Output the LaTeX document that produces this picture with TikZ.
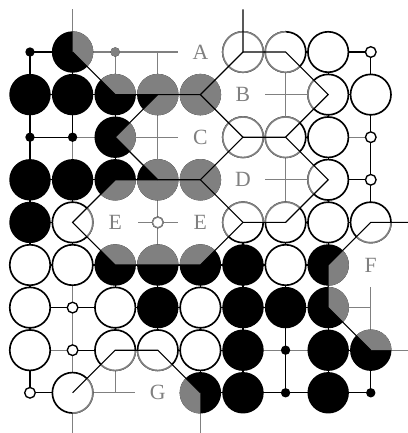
\documentclass[tikz,border=0pt]{standalone}
\usepackage{fontspec}
\setmainfont{Liberation Serif}
\definecolor{cellgray}{RGB}{128,128,128}
\tikzset{
  gridline/.style={line width=0.9pt},
  border/.style={line width=0.75pt},
  wstone/.style={fill=white, line width=1.1pt},
  wpoint/.style={fill=white, line width=0.9pt},
  lettermark/.style={fill=white, text=cellgray, inner sep=0pt, minimum size=1.05cm,
    font=\fontsize{14.5}{14.5}\selectfont}
}
% the lettered cells
\newcommand{\lettered}{%
  (2,-1) -- (2,1) -- (3,2) -- (5,2) -- (6,1) -- (6,-1) -- cycle
  (6,-1) -- (6,1) -- (7,1) -- (7,-1) -- cycle
  (5,2) -- (6,1) -- (7,1) -- (8,2) -- (7,3) -- (6,3) -- cycle
  (3,3) -- (4,2) -- (5,2) -- (6,3) -- (5,4) -- (4,4) -- cycle
  (5,4) -- (6,3) -- (7,3) -- (8,4) -- (7,5) -- (6,5) -- cycle
  (2,5) -- (3,4) -- (5,4) -- (6,5) -- (5,6) -- (3,6) -- cycle
  (9,5) -- (11,5) -- (11,8) -- (9,8) -- (8,7) -- (8,6) -- cycle
  (2,9) -- (3,8) -- (4,8) -- (5,9) -- (5,11) -- (2,11) -- cycle}
% stones and points, #1 = ink
\newcommand{\stones}[1]{%
  % black stones
  \foreach \c/\r in {2/1, 1/2, 2/2, 3/2, 4/2, 5/2, 3/3, 1/4, 2/4, 3/4, 4/4, 5/4, 1/5,
      3/6, 4/6, 5/6, 6/6, 8/6, 4/7, 6/7, 7/7, 8/7, 6/8, 8/8, 9/8, 5/9, 6/9, 8/9}
    \fill[#1] (\c,\r) circle (0.486);
  % white stones
  \foreach \c/\r in {6/1, 7/1, 8/1, 8/2, 9/2, 6/3, 7/3, 8/3, 8/4, 2/5, 6/5, 7/5, 8/5, 9/5,
      1/6, 2/6, 7/6, 1/7, 3/7, 5/7, 1/8, 3/8, 4/8, 5/8, 2/9}
    \filldraw[wstone, draw=#1] (\c,\r) circle (0.475);
  % empty points
  \foreach \c/\r in {1/1, 3/1, 1/3, 2/3, 7/8, 7/9, 9/9}
    \fill[#1] (\c,\r) circle (0.11);
  \foreach \c/\r in {9/1, 9/3, 9/4, 4/5, 2/7, 2/8, 1/9}
    \filldraw[wpoint, draw=#1] (\c,\r) circle (0.125);
}

\begin{document}
\begin{tikzpicture}[x=1cm, y=-1cm]
  \useasboundingbox (0.296,-0.221) rectangle (9.873,9.944);
  \clip (0.296,-0.221) rectangle (9.873,9.944);
  % grid
  \draw[gridline] (1,9) grid (9,1);
  \begin{scope}
    \clip \lettered;
    \draw[gridline, cellgray] (1,9) grid (9,1);
  \end{scope}
  % grey links outside the cells
  \draw[gridline, cellgray] (2,3) -- (3,3) (2,3) -- (2,4) (8,3) -- (9,3)
    (2,6) -- (2,9) (1,8) -- (2,8) (6,8) -- (8,8);
  % lines off the board
  \draw[gridline, cellgray] (2,0) -- (2,1) (2,9) -- (2,10) (5,9) -- (5,10) (9,8) -- (10,8);
  % letters
  \node[lettermark] (a) at (5,1) {A};
  \node[lettermark] (b) at (6,2) {B};
  \node[lettermark] (c) at (5,3) {C};
  \node[lettermark] (d) at (6,4) {D};
  \node[lettermark] (e1) at (3,5) {E};
  \node[lettermark] (e2) at (5,5) {E};
  \node[lettermark] (f) at (9,6) {F};
  \node[lettermark] (g) at (4,9) {G};
  % stones
  \stones{black}
  \begin{scope}
    \clip \lettered;
    \stones{cellgray}
  \end{scope}
  % cell borders
  \draw[border] (2,1) -- (3,2) -- (5,2) -- (6,1) -- (6,0);
  \draw[border] (6,1) -- (7,1) -- (8,2) -- (7,3) -- (8,4) -- (7,5) -- (6,5) -- (5,6)
    -- (3,6) -- (2,5) -- (3,4) -- (5,4) -- (6,3) -- (5,2);
  \draw[border] (4,2) -- (3,3) -- (4,4) (6,3) -- (7,3) (5,4) -- (6,5);
  \draw[border] (10,5) -- (9,5) -- (8,6) -- (8,7) -- (9,8);
  \draw[border] (2,9) -- (3,8) -- (4,8) -- (5,9);
\end{tikzpicture}
\end{document}
